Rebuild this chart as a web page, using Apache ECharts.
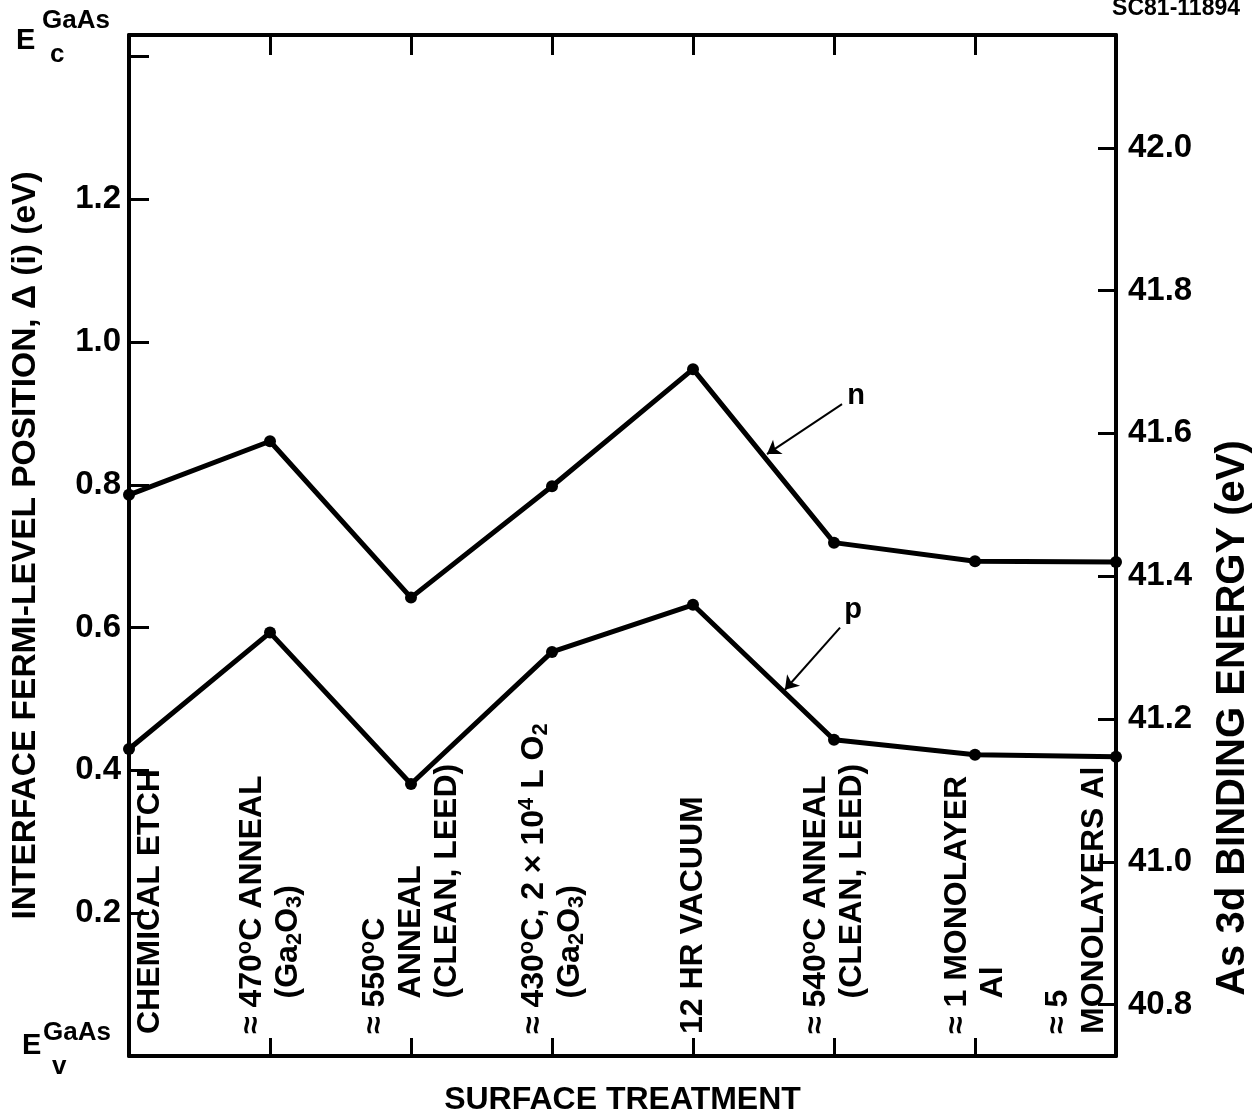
<!DOCTYPE html>
<html><head><meta charset="utf-8">
<script src="https://cdn.jsdelivr.net/npm/echarts@6/dist/echarts.min.js"></script>
<style>html,body{margin:0;padding:0;background:#fff}#c{width:1252px;height:1115px}</style>
</head><body><div id="c"></div>
<script>
// ---- data ----
const categories = [
  'CHEMICAL ETCH',
  '≈ 470{sup|o}C ANNEAL\n    (Ga{sub|2}O{sub|3})',
  '≈ 550{sup|o}C\n    ANNEAL\n    (CLEAN, LEED)',
  '≈ 430{sup|o}C, 2 × 10{sup|4} L O{sub|2}\n    (Ga{sub|2}O{sub|3})',
  '12 HR VACUUM',
  '≈ 540{sup|o}C ANNEAL\n    (CLEAN, LEED)',
  '≈ 1 MONOLAYER\n    Al',
  '≈ 5\nMONOLAYERS Al'
];
const categoryIndex = [0, 1, 2, 3, 4, 5, 6, 7];
const nValues = [0.786, 0.861, 0.642, 0.798, 0.962, 0.719, 0.693, 0.692];
const pValues = [0.430, 0.593, 0.381, 0.566, 0.632, 0.443, 0.422, 0.419];
const leftTicks = [0.2, 0.4, 0.6, 0.8, 1.0, 1.2];
const rightTicks = [40.8, 41.0, 41.2, 41.4, 41.6, 41.8, 42.0];
const nArrow = [[5.057, 0.913], [4.525, 0.843]];
const pArrow = [[5.043, 0.600], [4.652, 0.513]];
const nLabelAt = [5.156, 0.925];
const pLabelAt = [5.135, 0.625];

// ---- layout/style (not data) ----
const labelSlots = [0.15, 1, 2, 3, 4, 5, 6, 6.72];
const FF = '"Liberation Sans", Arial, Helvetica, sans-serif';
const K = '#000';
const rich = {
  sup: {fontSize: 22, lineHeight: 22, verticalAlign: 'top', fontWeight: 'bold', fontFamily: FF, color: K},
  sub: {fontSize: 22, lineHeight: 22, verticalAlign: 'bottom', fontWeight: 'bold', fontFamily: FF, color: K}
};

const chart = echarts.init(document.getElementById('c'), null, {renderer: 'canvas'});
const lineOf = vals => vals.map((v, i) => [categoryIndex[i], v]);

function arrowLine(pts) {
  return {
    silent: true, symbol: ['none', 'arrow'], symbolSize: 13,
    lineStyle: {color: K, width: 2, type: 'solid'},
    label: {show: false}, emphasis: {disabled: true},
    data: [[{coord: pts[0]}, {coord: pts[1]}]]
  };
}
function tag(at, txt) {
  return {
    silent: true, symbol: 'rect', symbolSize: 1, itemStyle: {color: 'rgba(0,0,0,0)'},
    label: {show: true, position: 'inside', formatter: txt, fontSize: 29, fontWeight: 'bold', fontFamily: FF, color: K},
    data: [{coord: at}]
  };
}

const option = {
  animation: false,
  backgroundColor: '#fff',
  grid: {left: 129, right: 136, top: 35, bottom: 59, outerBoundsMode: 'none', containLabel: false},
  xAxis: [{
    type: 'value', position: 'bottom', min: 0, max: 7,
    axisLine: {show: true, onZero: false, lineStyle: {color: K, width: 4}},
    axisTick: {show: true, inside: true, length: 18, customValues: [1, 2, 3, 4, 5, 6], lineStyle: {color: K, width: 3}},
    splitLine: {show: false},
    axisLabel: {
      show: true, inside: true, rotate: 90, margin: 22, customValues: labelSlots,
      formatter: v => { const i = labelSlots.findIndex(s => Math.abs(s - v) < 1e-6); return i >= 0 ? categories[i] : ''; },
      fontSize: 32, lineHeight: 36, fontWeight: 'bold', fontFamily: FF, color: K, rich: rich
    },
    name: 'SURFACE TREATMENT', nameLocation: 'middle', nameGap: 28,
    nameTextStyle: {fontSize: 32, fontWeight: 'bold', fontFamily: FF, color: K, verticalAlign: 'top'}
  }, {
    type: 'value', position: 'top', min: 0, max: 7,
    axisLine: {show: true, onZero: false, lineStyle: {color: K, width: 4}},
    axisTick: {show: true, inside: true, length: 20, customValues: [1, 2, 3, 4, 5, 6], lineStyle: {color: K, width: 3}},
    axisLabel: {show: false}, splitLine: {show: false}
  }],
  yAxis: [{
    type: 'value', position: 'left', min: 0, max: 1.43,
    axisLine: {show: true, onZero: false, lineStyle: {color: K, width: 4}},
    axisTick: {show: true, inside: true, length: 20, customValues: leftTicks.concat([1.4]), lineStyle: {color: K, width: 3}},
    splitLine: {show: false},
    axisLabel: {
      show: true, margin: 8, customValues: leftTicks, formatter: v => v.toFixed(1),
      fontSize: 33, fontWeight: 'bold', fontFamily: FF, color: K
    },
    name: 'INTERFACE FERMI-LEVEL POSITION, Δ (i) (eV)', nameLocation: 'middle', nameGap: 86,
    nameTextStyle: {fontSize: 33.5, fontWeight: 'bold', fontFamily: FF, color: K}
  }, {
    type: 'value', position: 'right', min: 40.728, max: 42.158,
    axisLine: {show: true, onZero: false, lineStyle: {color: K, width: 4}},
    axisTick: {show: true, inside: true, length: 18, customValues: rightTicks, lineStyle: {color: K, width: 3}},
    splitLine: {show: false},
    axisLabel: {
      show: true, margin: 12, customValues: rightTicks, formatter: v => v.toFixed(1),
      fontSize: 33, fontWeight: 'bold', fontFamily: FF, color: K
    }
  }],
  series: [{
    name: 'n', type: 'line', xAxisIndex: 0, yAxisIndex: 0, data: lineOf(nValues),
    symbol: 'circle', symbolSize: 12, showSymbol: true,
    lineStyle: {color: K, width: 5}, itemStyle: {color: K},
    emphasis: {disabled: true}, z: 3,
    markLine: arrowLine(nArrow), markPoint: tag(nLabelAt, 'n')
  }, {
    name: 'p', type: 'line', xAxisIndex: 0, yAxisIndex: 0, data: lineOf(pValues),
    symbol: 'circle', symbolSize: 12, showSymbol: true,
    lineStyle: {color: K, width: 5}, itemStyle: {color: K},
    emphasis: {disabled: true}, z: 3,
    markLine: arrowLine(pArrow), markPoint: tag(pLabelAt, 'p')
  }],
  graphic: [
    {type: 'text', x: 1240, y: 9, style: {text: 'SC81-11894', fontSize: 23, fontWeight: 'bold', fontFamily: FF, fill: K, align: 'right', verticalAlign: 'middle'}},
    {type: 'text', x: 1233, y: 718, rotation: Math.PI / 2, style: {text: 'As 3d BINDING ENERGY (eV)', fontSize: 40, fontWeight: 'bold', fontFamily: FF, fill: K, align: 'center', verticalAlign: 'middle'}},
    {type: 'text', x: 16, y: 41, style: {text: 'E', fontSize: 29, fontWeight: 'bold', fontFamily: FF, fill: K, align: 'left', verticalAlign: 'middle'}},
    {type: 'text', x: 42, y: 21, style: {text: 'GaAs', fontSize: 26, fontWeight: 'bold', fontFamily: FF, fill: K, align: 'left', verticalAlign: 'middle'}},
    {type: 'text', x: 50, y: 55, style: {text: 'c', fontSize: 26, fontWeight: 'bold', fontFamily: FF, fill: K, align: 'left', verticalAlign: 'middle'}},
    {type: 'text', x: 22, y: 1046, style: {text: 'E', fontSize: 29, fontWeight: 'bold', fontFamily: FF, fill: K, align: 'left', verticalAlign: 'middle'}},
    {type: 'text', x: 43, y: 1033, style: {text: 'GaAs', fontSize: 26, fontWeight: 'bold', fontFamily: FF, fill: K, align: 'left', verticalAlign: 'middle'}},
    {type: 'text', x: 52, y: 1067, style: {text: 'v', fontSize: 26, fontWeight: 'bold', fontFamily: FF, fill: K, align: 'left', verticalAlign: 'middle'}}
  ]
};
chart.setOption(option);
</script>
</body></html>
